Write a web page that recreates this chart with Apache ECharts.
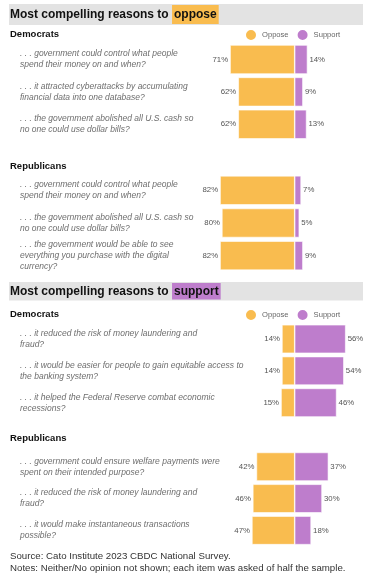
<!DOCTYPE html>
<html><head><meta charset="utf-8">
<script src="https://cdn.jsdelivr.net/npm/echarts@6/dist/echarts.min.js"></script>
<style>html,body{margin:0;padding:0;background:#fff}#c{width:370px;height:582px}</style>
</head><body><div id="c"></div>
<script>
// ---- data ----
const demOpposeCats = [
  ". . . government could control what people\nspend their money on and when?",
  ". . . it attracted cyberattacks by accumulating\nfinancial data into one database?",
  ". . . the government abolished all U.S. cash so\nno one could use dollar bills?"
];
const demOpposeOppose = [71, 62, 62];
const demOpposeSupport = [14, 9, 13];

const repOpposeCats = [
  ". . . government could control what people\nspend their money on and when?",
  ". . . the government abolished all U.S. cash so\nno one could use dollar bills?",
  ". . . the government would be able to see\neverything you purchase with the digital\ncurrency?"
];
const repOpposeOppose = [82, 80, 82];
const repOpposeSupport = [7, 5, 9];

const demSupportCats = [
  ". . . it reduced the risk of money laundering and\nfraud?",
  ". . . it would be easier for people to gain equitable access to\nthe banking system?",
  ". . . it helped the Federal Reserve combat economic\nrecessions?"
];
const demSupportOppose = [14, 14, 15];
const demSupportSupport = [56, 54, 46];

const repSupportCats = [
  ". . . government could ensure welfare payments were\nspent on their intended purpose?",
  ". . . it reduced the risk of money laundering and\nfraud?",
  ". . . it would make instantaneous transactions\npossible?"
];
const repSupportOppose = [42, 46, 47];
const repSupportSupport = [37, 30, 18];

const seriesNames = ["Oppose", "Support"];
const sectionTitles = ["Most compelling reasons to ", "oppose", "support"];
const groupNames = ["Democrats", "Republicans"];
const sourceText = "Source: Cato Institute 2023 CBDC National Survey.";
const notesText = "Notes: Neither/No opinion not shown; each item was asked of half the sample.";

// ---- font detection ----
function hasFont(name){
  const c=document.createElement('canvas').getContext('2d');
  const s='mmmmmmmmmmlliWWw0123';
  c.font='72px monospace'; const a=c.measureText(s).width;
  c.font="72px '"+name+"', monospace"; const b=c.measureText(s).width;
  return a!==b;
}
const narrowOK = hasFont('Liberation Sans Narrow');
const NARROW = narrowOK ? "'Liberation Sans Narrow', sans-serif" : "'Liberation Sans', Arial, sans-serif";
const REG = "'Liberation Sans', Arial, sans-serif";
const fs = narrowOK ? {q:10, v:9, lg:9, foot:11.5} : {q:8.5, v:7.8, lg:7.6, foot:9.7};

// ---- style ----
const ORANGE = '#F9BC4F', PURPLE = '#BE7DCC';
const CENTER = 294.7, PX = 0.91, XMIN = -90, XMAX = 80;
const gridLeft = CENTER + XMIN * PX;
const gridW = (XMAX - XMIN) * PX;
const grids = [
  {top: 43.3, h: 97.2, bw: 29},
  {top: 174, h: 98, bw: 29},
  {top: 323.1, h: 95.5, bw: 28.5},
  {top: 450.8, h: 95.5, bw: 28.5}
];
const sections = [
  [demOpposeCats, demOpposeOppose, demOpposeSupport],
  [repOpposeCats, repOpposeOppose, repOpposeSupport],
  [demSupportCats, demSupportOppose, demSupportSupport],
  [repSupportCats, repSupportOppose, repSupportSupport]
];

const option = {
  animation: false,
  grid: grids.map(g => ({left: gridLeft, top: g.top, width: gridW, height: g.h})),
  xAxis: grids.map((g, i) => ({type: 'value', gridIndex: i, min: XMIN, max: XMAX, show: false})),
  yAxis: sections.map((s, i) => ({
    type: 'category', gridIndex: i, data: s[0], inverse: true,
    axisLine: {show: false}, axisTick: {show: false}, splitLine: {show: false},
    axisLabel: {align: 'left', margin: gridLeft - 20, color: '#6e6e6e', fontStyle: 'italic',
      fontFamily: NARROW, fontSize: fs.q, lineHeight: 11}
  })),
  legend: [28, 308].map(t => ({
    data: seriesNames, left: 244, top: t, padding: 0, icon: 'circle', itemWidth: 12, itemHeight: 12,
    itemGap: 7, selectedMode: false,
    textStyle: {color: '#666', fontSize: fs.lg, fontFamily: NARROW}
  })),
  series: []
};
sections.forEach((s, i) => {
  option.series.push({
    name: seriesNames[0], type: 'bar', xAxisIndex: i, yAxisIndex: i, stack: 's' + i,
    barWidth: grids[i].bw, data: s[1].map(v => -v),
    itemStyle: {color: ORANGE, borderColor: '#fff', borderWidth: 0.6},
    label: {show: true, position: 'left', distance: 2, color: '#555', fontSize: fs.v, fontFamily: NARROW,
      formatter: p => Math.abs(p.value) + '%'}
  });
  option.series.push({
    name: seriesNames[1], type: 'bar', xAxisIndex: i, yAxisIndex: i, stack: 's' + i,
    barWidth: grids[i].bw, data: s[2],
    itemStyle: {color: PURPLE, borderColor: '#fff', borderWidth: 0.6},
    label: {show: true, position: 'right', distance: 2, color: '#555', fontSize: fs.v, fontFamily: NARROW,
      formatter: p => p.value + '%'}
  });
});

function titleText(y, word, color, h){
  const pad = (h - 14) / 2;
  return {type: 'text', x: 10, y: y, style: {
    text: '{a|' + sectionTitles[0] + '}{b|' + word + '}', verticalAlign: 'middle',
    rich: {
      a: {fontFamily: REG, fontWeight: 'bold', fontSize: 12, fill: '#111', lineHeight: 14},
      b: {fontFamily: REG, fontWeight: 'bold', fontSize: 12, fill: '#111', lineHeight: 14,
          backgroundColor: color, padding: [pad, 2, pad, 2]}
    }}};
}
function head(y, t){
  return {type: 'text', x: 10, y: y, style: {text: t, fontFamily: REG, fontWeight: 'bold',
    fontSize: 9.5, fill: '#111', verticalAlign: 'middle'}};
}
option.graphic = [
  {type: 'rect', shape: {x: 9, y: 4, width: 354, height: 21}, style: {fill: '#E3E3E3'}},
  titleText(14.5, sectionTitles[1], ORANGE, 21),
  head(34, groupNames[0]),
  head(166, groupNames[1]),
  {type: 'rect', shape: {x: 9, y: 282, width: 354, height: 18.5}, style: {fill: '#E3E3E3'}},
  titleText(291.2, sectionTitles[2], PURPLE, 18.5),
  head(314, groupNames[0]),
  head(438, groupNames[1]),
  {type: 'text', x: 10, y: 556, style: {text: sourceText, fontFamily: NARROW, fontSize: fs.foot, fill: '#333', verticalAlign: 'middle'}},
  {type: 'text', x: 10, y: 568, style: {text: notesText, fontFamily: NARROW, fontSize: fs.foot, fill: '#333', verticalAlign: 'middle'}}
];

const chart = echarts.init(document.getElementById('c'), null, {renderer: 'canvas'});
chart.setOption(option);
</script></body></html>
